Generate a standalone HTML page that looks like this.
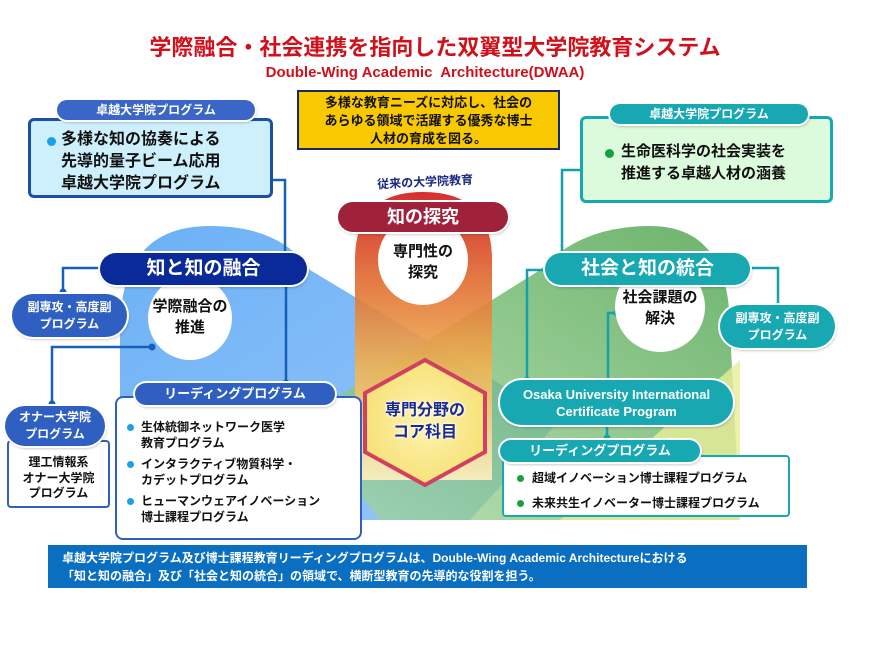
<!DOCTYPE html>
<html><head><meta charset="utf-8"><style>
body{margin:0;width:870px;height:665px;background:#fff;position:relative;overflow:hidden;font-family:"Liberation Sans","Noto Sans CJK JP",sans-serif;font-weight:bold}
.a{position:absolute;box-sizing:border-box}
.pill{border-radius:22px;color:#fff;text-align:center;box-shadow:0 0 0 2px #fff,1px 2px 3px rgba(0,0,0,.35)}
.wc{position:absolute;background:#fff;border-radius:50%;text-align:center;color:#111;font-size:15px;line-height:21px}
</style></head><body>
<svg class="a" style="left:0;top:0" width="870" height="665">
<defs>
<linearGradient id="bl" x1="0" y1="0" x2="1" y2="1"><stop offset="0" stop-color="#5aa8f5"/><stop offset="1" stop-color="#8ec0f8"/></linearGradient>
<linearGradient id="gr" x1="1" y1="0" x2="0" y2="1"><stop offset="0" stop-color="#3a9a3a"/><stop offset="1" stop-color="#a8d8a0"/></linearGradient>
<linearGradient id="or" x1="0" y1="0" x2="0" y2="1"><stop offset="0" stop-color="#d01818"/><stop offset=".3" stop-color="#e06a30"/><stop offset=".6" stop-color="#f0b050"/><stop offset="1" stop-color="#fff0c0"/></linearGradient>
<radialGradient id="hx"><stop offset="0" stop-color="#fff3b0"/><stop offset="1" stop-color="#f6e27a"/></radialGradient>
</defs>
<path d="M120,330 Q120,226 210,226 Q280,226 310,270 L560,420 L470,520 L300,520 L120,520 Z" fill="url(#bl)" opacity=".9"/>
<path d="M730,330 Q730,226 650,226 Q580,226 540,270 L300,420 L380,520 L560,520 L740,520 Z" fill="url(#gr)" opacity=".75"/>
<path d="M740,360 L740,520 L560,520 Z" fill="#e8ee9a" opacity=".8"/>
<path d="M355,480 L355,260 Q355,192 423,192 Q492,192 492,260 L492,480 Z" fill="url(#or)" opacity=".9"/>
<polygon points="425,360 485,393 485,452 425,485 365,452 365,393" fill="url(#hx)" stroke="#d04060" stroke-width="4"/>
<g stroke="#1560b8" stroke-width="2.5" fill="none">
<polyline points="265,180 285,180 285,255"/>
<polyline points="286,287 286,383"/>
<polyline points="113,268 63,268 63,294"/>
<polyline points="152,347 52,347 52,405"/>
</g>
<g stroke="#15a0ac" stroke-width="2.5" fill="none">
<polyline points="588,170 562,170 562,257"/>
<polyline points="547,270 527,270 527,380"/>
<polyline points="748,268 778,268 778,305"/>
<polyline points="617,313 608,313 608,380"/>
<line x1="607" y1="425" x2="607" y2="440"/>
</g>
<g fill="#1560b8"><circle cx="265" cy="180" r="3.5"/><circle cx="285" cy="255" r="3.5"/><circle cx="286" cy="284" r="3.5"/><circle cx="286" cy="383" r="3.5"/><circle cx="113" cy="268" r="3.5"/><circle cx="63" cy="292" r="3.5"/><circle cx="152" cy="347" r="3.5"/><circle cx="52" cy="404" r="3.5"/></g>
<g fill="#15a0ac"><circle cx="588" cy="170" r="3.5"/><circle cx="562" cy="257" r="3.5"/><circle cx="547" cy="270" r="3.5"/><circle cx="527" cy="380" r="3.5"/><circle cx="748" cy="268" r="3.5"/><circle cx="778" cy="306" r="3.5"/><circle cx="617" cy="313" r="3.5"/><circle cx="607" cy="438" r="3.5"/></g>
<text x="425" y="186" text-anchor="middle" font-size="12" fill="#1a2a80" font-family="Liberation Sans,Noto Sans CJK JP,sans-serif" font-weight="bold" transform="rotate(-3 425 180)">従来の大学院教育</text>
</svg>

<div class="a" style="left:0;top:30px;width:870px;text-align:center;color:#d0101a;font-size:22px">学際融合・社会連携を指向した双翼型大学院教育システム</div>
<div class="a" style="left:0;top:64px;width:850px;text-align:center;color:#d0101a;font-size:15px">Double-Wing Academic&nbsp; Architecture(DWAA)</div>

<div class="a" style="left:297px;top:90px;width:263px;height:60px;background:#f8c800;border:2px solid #1a2a60;text-align:center;font-size:13px;line-height:18px;padding-top:2px;color:#111">多様な教育ニーズに対応し、社会の<br>あらゆる領域で活躍する優秀な博士<br>人材の育成を図る。</div>

<div class="a" style="left:28px;top:118px;width:245px;height:80px;background:#cdf0fc;border:3px solid #1d4fa8;border-radius:6px;padding:8px 0 0 30px;font-size:16px;line-height:22px;color:#111"><span style="position:absolute;left:16px;top:16px;width:9px;height:9px;border-radius:50%;background:#1aa0e8"></span>多様な知の協奏による<br>先導的量子ビーム応用<br>卓越大学院プログラム</div>
<div class="a pill" style="left:57px;top:100px;width:198px;height:20px;background:#3a66c8;font-size:12px;line-height:20px">卓越大学院プログラム</div>

<div class="a" style="left:580px;top:116px;width:253px;height:87px;background:#dcfadc;border:3px solid #18a8b2;border-radius:6px;padding:22px 0 0 38px;font-size:15px;line-height:22px;color:#111"><span style="position:absolute;left:22px;top:30px;width:9px;height:9px;border-radius:50%;background:#18a040"></span>生命医科学の社会実装を<br>推進する卓越人材の涵養</div>
<div class="a pill" style="left:610px;top:104px;width:198px;height:20px;background:#18a8b2;font-size:12px;line-height:20px">卓越大学院プログラム</div>

<div class="wc" style="left:378px;top:215px;width:90px;height:90px;padding-top:26px;box-sizing:border-box">専門性の<br>探究</div>
<div class="a pill" style="left:338px;top:202px;width:170px;height:30px;background:#a0213a;font-size:18px;line-height:30px">知の探究</div>

<div class="wc" style="left:148px;top:276px;width:84px;height:84px;padding-top:20px;box-sizing:border-box">学際融合の<br>推進</div>
<div class="a pill" style="left:100px;top:253px;width:207px;height:32px;background:#0a2a9a;font-size:19px;line-height:32px">知と知の融合</div>

<div class="wc" style="left:615px;top:262px;width:90px;height:90px;padding-top:25px;box-sizing:border-box">社会課題の<br>解決</div>
<div class="a pill" style="left:545px;top:253px;width:205px;height:32px;background:#18a8b2;font-size:19px;line-height:32px">社会と知の統合</div>

<div class="a pill" style="left:12px;top:294px;width:115px;height:43px;background:#2f5fc0;font-size:12px;line-height:17px;padding-top:5px">副専攻・高度副<br>プログラム</div>
<div class="a pill" style="left:720px;top:305px;width:115px;height:43px;background:#18a8b2;font-size:12px;line-height:17px;padding-top:5px">副専攻・高度副<br>プログラム</div>

<div class="a" style="left:365px;top:400px;width:120px;text-align:center;color:#1a2a90;font-size:16px;line-height:22px;text-shadow:0 0 3px #fff,0 0 3px #fff">専門分野の<br>コア科目</div>

<div class="a" style="left:115px;top:396px;width:247px;height:144px;background:#fff;border:2px solid #2f5fc0;border-radius:8px;padding:22px 0 0 24px;font-size:12px;line-height:15.5px;color:#111">
<div style="position:relative;margin-bottom:6px"><span style="position:absolute;left:-14px;top:4px;width:7px;height:7px;border-radius:50%;background:#1aa0e8"></span>生体統御ネットワーク医学<br>教育プログラム</div>
<div style="position:relative;margin-bottom:6px"><span style="position:absolute;left:-14px;top:4px;width:7px;height:7px;border-radius:50%;background:#1aa0e8"></span>インタラクティブ物質科学・<br>カデットプログラム</div>
<div style="position:relative"><span style="position:absolute;left:-14px;top:4px;width:7px;height:7px;border-radius:50%;background:#1aa0e8"></span>ヒューマンウェアイノベーション<br>博士課程プログラム</div></div>
<div class="a pill" style="left:135px;top:383px;width:200px;height:22px;background:#2f5fc0;font-size:13px;line-height:22px">リーディングプログラム</div>

<div class="a" style="left:7px;top:440px;width:103px;height:68px;background:#fff;border:2px solid #2f5fc0;border-radius:4px;padding-top:13px;text-align:center;font-size:12px;line-height:15.5px;color:#111">理工情報系<br>オナー大学院<br>プログラム</div>
<div class="a pill" style="left:5px;top:406px;width:100px;height:40px;background:#2f5fc0;font-size:12px;line-height:17px;padding-top:3px">オナー大学院<br>プログラム</div>

<div class="a pill" style="left:500px;top:380px;width:233px;height:45px;background:#18a8b2;font-size:13px;line-height:17px;padding-top:6px">Osaka University International<br>Certificate Program</div>

<div class="a" style="left:502px;top:455px;width:288px;height:62px;background:#fff;border:2px solid #18a8b2;border-radius:4px;padding:9px 0 0 28px;font-size:12px;line-height:25px;color:#111">
<div style="position:relative"><span style="position:absolute;left:-15px;top:9px;width:7px;height:7px;border-radius:50%;background:#18a040"></span>超域イノベーション博士課程プログラム</div>
<div style="position:relative"><span style="position:absolute;left:-15px;top:9px;width:7px;height:7px;border-radius:50%;background:#18a040"></span>未来共生イノベーター博士課程プログラム</div></div>
<div class="a pill" style="left:500px;top:440px;width:200px;height:22px;background:#18a8b2;font-size:13px;line-height:22px">リーディングプログラム</div>

<div class="a" style="left:48px;top:545px;width:759px;height:43px;background:#0a6fc0;color:#fff;font-size:12px;line-height:18px;padding:4px 0 0 14px">卓越大学院プログラム及び博士課程教育リーディングプログラムは、Double-Wing Academic Architectureにおける<br>「知と知の融合」及び「社会と知の統合」の領域で、横断型教育の先導的な役割を担う。</div>
</body></html>
